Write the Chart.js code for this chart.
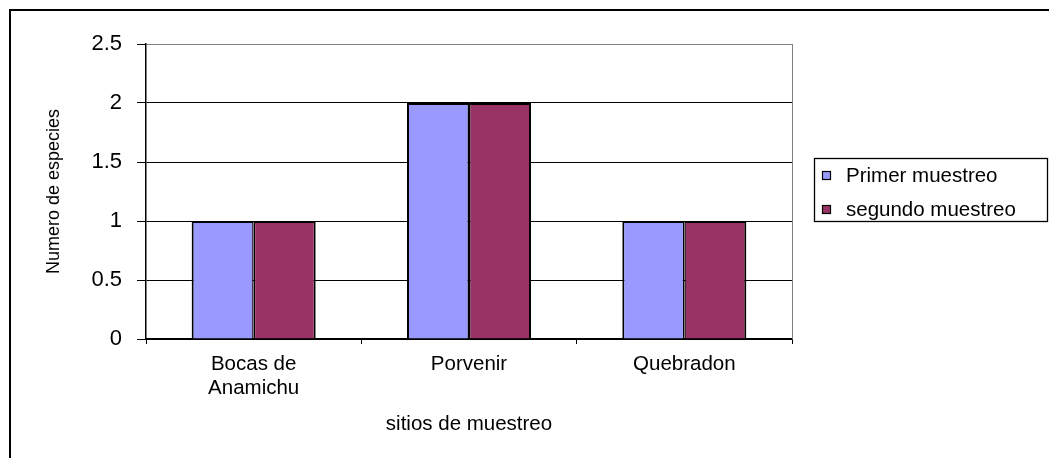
<!DOCTYPE html>
<html><head><meta charset="utf-8">
<script src="https://cdn.jsdelivr.net/npm/chart.js@4"></script>
<style>html,body{margin:0;padding:0;background:#fff;overflow:hidden}#wrap{width:1049px;height:458px;position:relative}canvas{display:block}</style>
</head><body><div id="wrap"><canvas id="c" width="1049" height="458"></canvas></div>
<script>
const categories = [['Bocas de', 'Anamichu'], 'Porvenir', 'Quebradon'];
const seriesNames = ['Primer muestreo', 'segundo muestreo'];
const primerMuestreo = [1, 2, 1];
const segundoMuestreo = [1, 2, 1];
const yTickLabels = ['0', '0.5', '1', '1.5', '2', '2.5'];
const xTitle = 'sitios de muestreo';
const yTitle = 'Numero de especies';
const seriesColors = ['#9999FF', '#993366'];

const FAM = "'Liberation Sans', Arial, sans-serif";
const TXT = 20.5;

const frame = {
  id: 'frame',
  afterDraw(chart) {
    const ctx = chart.ctx, a = chart.chartArea;
    ctx.save();
    // outer chart border (only left/top visible)
    ctx.strokeStyle = '#000';
    ctx.lineWidth = 2;
    ctx.strokeRect(10, 10, 1100, 500);
    // right plot border
    ctx.strokeStyle = '#808080';
    ctx.lineWidth = 1;
    ctx.beginPath();
    ctx.moveTo(Math.round(a.right) + 0.5, a.top);
    ctx.lineTo(Math.round(a.right) + 0.5, a.bottom);
    ctx.stroke();
    // legend
    ctx.strokeStyle = '#000';
    ctx.lineWidth = 1.3;
    ctx.strokeRect(814.5, 158.5, 233, 63);
    ctx.font = TXT + 'px ' + FAM;
    ctx.textBaseline = 'middle';
    ctx.textAlign = 'left';
    const rows = [176, 210];
    chart.data.datasets.forEach((ds, i) => {
      ctx.fillStyle = ds.backgroundColor;
      ctx.fillRect(822.5, rows[i] - 4.5, 8, 8);
      ctx.lineWidth = 1.2;
      ctx.strokeRect(822.5, rows[i] - 4.5, 8, 8);
      ctx.fillStyle = '#000';
      ctx.fillText(ds.label, 846, rows[i] + 0.5);
    });
    ctx.restore();
  }
};

new Chart(document.getElementById('c'), {
  type: 'bar',
  data: {
    labels: categories,
    datasets: [
      { label: seriesNames[0], data: primerMuestreo, backgroundColor: seriesColors[0], borderColor: '#000', borderWidth: { top: 2, left: 2, right: 1.5, bottom: 0 }, borderSkipped: false, categoryPercentage: 0.576, barPercentage: 1.0 },
      { label: seriesNames[1], data: segundoMuestreo, backgroundColor: seriesColors[1], borderColor: '#000', borderWidth: { top: 2, left: 1.5, right: 2, bottom: 0 }, borderSkipped: false, categoryPercentage: 0.576, barPercentage: 1.0 }
    ]
  },
  options: {
    responsive: false,
    animation: false,
    devicePixelRatio: 1,
    layout: { padding: { left: 0, top: 44, right: 257, bottom: 0 } },
    plugins: { legend: { display: false }, tooltip: { enabled: false } },
    scales: {
      x: {
        grid: { drawOnChartArea: false, offset: true, tickLength: 5, color: '#000', lineWidth: 1 },
        border: { color: '#000', width: 1.5 },
        ticks: { color: '#000', font: { family: FAM, size: TXT, lineHeight: 24 / TXT }, padding: 8.8, maxRotation: 0, autoSkip: false },
        title: { display: true, text: xTitle, color: '#000', font: { family: FAM, size: TXT }, padding: { top: 0, bottom: 21 } },
        afterFit(s) { s.height = 119; }
      },
      y: {
        min: 0, max: 2.5,
        ticks: { stepSize: 0.5, color: '#000', font: { family: FAM, size: 22 }, padding: 15, callback: (v, i) => yTickLabels[i] },
        grid: { color: (c) => (c.tick && c.tick.value === 2.5 ? '#808080' : '#000'), tickColor: '#000', tickLength: 9, lineWidth: 1 },
        border: { color: '#000', width: 1.5 },
        title: { display: true, text: yTitle, color: '#000', font: { family: FAM, size: 18 }, padding: { top: 43.6, bottom: 0 } },
        afterFit(s) { s.width = 146; }
      }
    }
  },
  plugins: [frame]
});
</script>
</body></html>
